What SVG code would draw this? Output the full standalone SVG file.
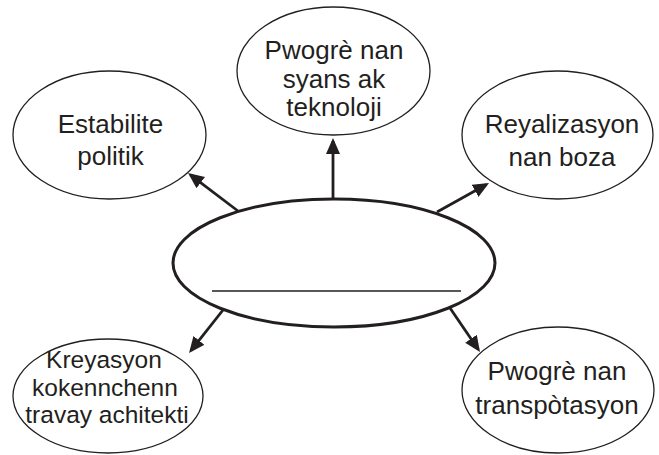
<svg xmlns="http://www.w3.org/2000/svg" width="659" height="455" viewBox="0 0 659 455">
<style>
.node{fill:#fff;stroke:#231f20;stroke-width:1.3}
.center{fill:#fff;stroke:#231f20;stroke-width:3}
.t{font-family:"Liberation Sans",Arial,sans-serif;font-size:26px;fill:#231f20;text-anchor:middle}
.ts{font-size:24.5px}
.conn{stroke:#231f20;stroke-width:2.8;fill:none;marker-end:url(#ah)}
</style>
<defs>
<marker id="ah" markerUnits="userSpaceOnUse" markerWidth="17" markerHeight="15" refX="13" refY="7" orient="auto">
<path d="M0,0 L16,7 L0,14 z" fill="#231f20"/>
</marker>
</defs>
<rect width="659" height="455" fill="#fff"/>
<g id="connectors">
<line class="conn" x1="333" y1="199" x2="333" y2="141"/>
<line class="conn" x1="238" y1="211" x2="190.4" y2="174.8"/>
<line class="conn" x1="437" y1="212" x2="486.4" y2="184.5"/>
<line class="conn" x1="223" y1="310" x2="190.9" y2="350.6"/>
<line class="conn" x1="450" y1="308" x2="478.3" y2="349.5"/>
</g>
<g id="center">
<ellipse class="center" cx="334" cy="263" rx="161" ry="64"/>
<line x1="212" y1="291" x2="461" y2="291" stroke="#231f20" stroke-width="1.5"/>
</g>
<g id="node-top">
<ellipse class="node" cx="333.5" cy="71" rx="96.5" ry="64"/>
<text class="t" x="334" y="59">Pwogrè nan</text>
<text class="t" x="334" y="88">syans ak</text>
<text class="t" x="334" y="116">teknoloji</text>
</g>
<g id="node-left">
<ellipse class="node" cx="109.5" cy="135" rx="96.5" ry="64"/>
<text class="t" x="110.5" y="133">Estabilite</text>
<text class="t" x="110.5" y="165">politik</text>
</g>
<g id="node-right">
<ellipse class="node" cx="557.5" cy="135" rx="95.5" ry="64"/>
<text class="t" x="562" y="133">Reyalizasyon</text>
<text class="t" x="562" y="166">nan boza</text>
</g>
<g id="node-bottom-left">
<ellipse class="node" cx="108" cy="396" rx="95" ry="57"/>
<text class="t ts" x="104" y="368">Kreyasyon</text>
<text class="t ts" x="105" y="396">kokennchenn</text>
<text class="t ts" x="107" y="423">travay achitekti</text>
</g>
<g id="node-bottom-right">
<ellipse class="node" cx="558" cy="390" rx="96" ry="63"/>
<text class="t" x="557" y="380">Pwogrè nan</text>
<text class="t" x="557" y="414">transpòtasyon</text>
</g>
</svg>
